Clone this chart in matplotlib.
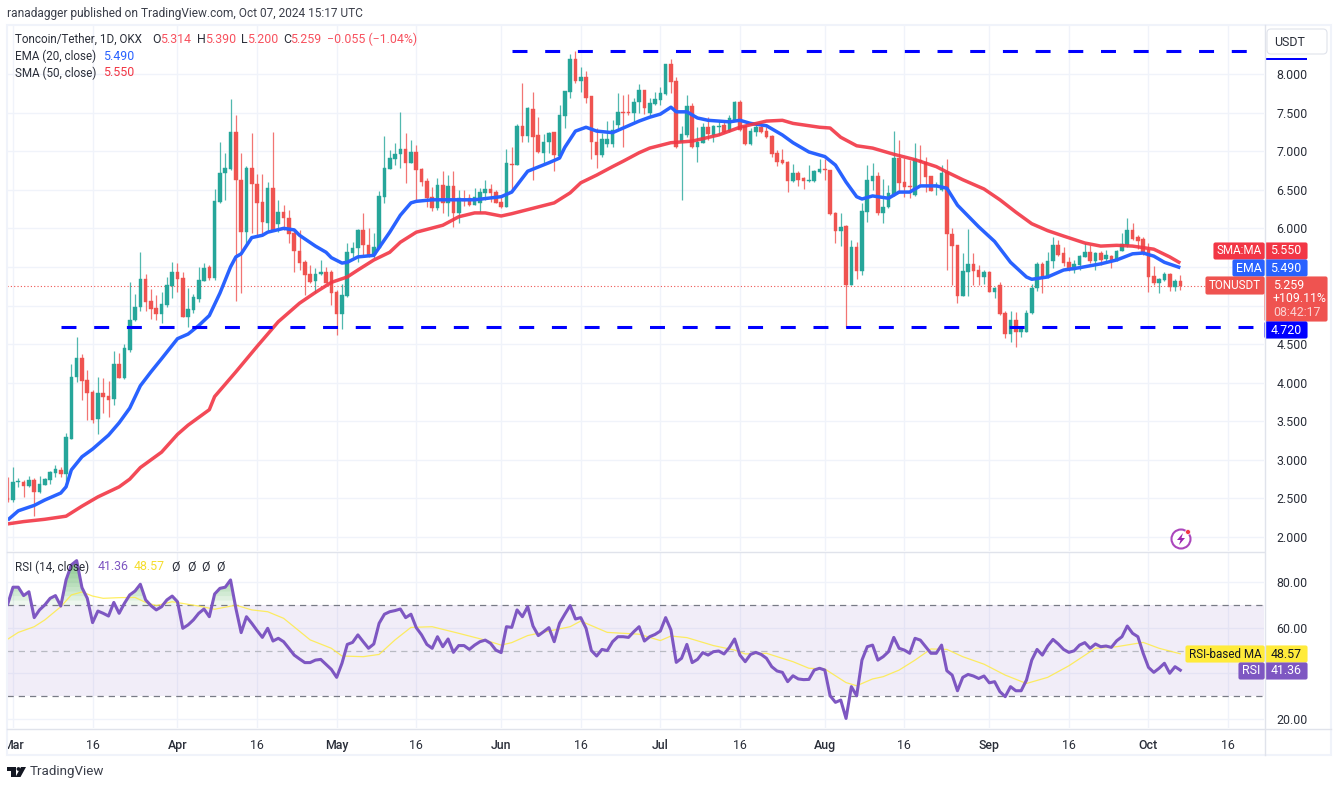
import numpy as np
import matplotlib
matplotlib.use("Agg")
import matplotlib.pyplot as plt
from matplotlib.patches import Rectangle, FancyBboxPatch, Circle, Polygon
from matplotlib.transforms import Bbox

plt.rcParams['font.family'] = ['Roboto', 'DejaVu Sans']

# === data. day 0 = Mar 1 2024 ===
days = np.arange(-1, 221)

opens = [
    2.51,2.48,2.71,2.71,2.66,2.74,2.58,2.67,2.74,2.83,
    2.87,2.82,3.27,4.07,4.32,4.03,3.88,3.53,3.87,3.83,
    3.79,4.24,4.06,4.42,4.81,4.98,5.34,5.06,4.97,4.89,
    5.01,5.25,5.43,5.36,4.85,4.94,5.08,5.32,5.50,5.36,
    6.34,6.72,6.77,7.25,6.63,5.95,6.78,6.57,6.34,6.07,
    6.52,6.06,6.21,6.13,5.94,5.71,5.56,5.41,5.32,5.41,
    5.44,5.44,5.17,4.89,5.12,5.68,5.75,5.98,5.78,5.65,
    5.75,6.41,6.77,6.90,6.96,7.03,6.85,6.99,6.77,6.61,
    6.40,6.26,6.56,6.33,6.55,6.20,6.38,6.39,6.30,6.33,
    6.46,6.51,6.47,6.34,6.28,6.84,6.82,7.33,7.20,7.55,
    7.21,6.98,7.12,7.25,6.94,7.46,7.77,8.20,7.91,7.96,
    7.71,7.12,6.95,7.09,7.09,7.34,7.51,7.51,7.50,7.64,
    7.79,7.49,7.61,7.66,7.74,8.13,7.91,7.12,7.21,7.59,
    7.05,7.11,7.31,7.21,7.31,7.34,7.26,7.40,7.64,7.33,
    7.09,7.25,7.31,7.26,7.20,6.98,6.89,6.86,6.61,6.72,
    6.65,6.61,6.61,6.73,6.77,6.76,6.20,5.97,6.03,5.27,
    5.76,5.45,6.21,6.61,6.68,6.20,6.28,6.43,6.91,6.60,
    6.55,6.43,6.89,6.86,6.68,6.54,6.50,6.73,5.93,5.78,
    5.12,5.43,5.54,5.46,5.37,5.43,5.18,5.27,4.90,4.63,
    4.81,4.66,4.66,4.90,5.23,5.54,5.37,5.58,5.78,5.68,
    5.56,5.46,5.52,5.63,5.69,5.58,5.68,5.60,5.64,5.60,
    5.71,5.78,5.98,5.89,5.86,5.72,5.38,5.29,5.33,5.41,
    5.24,5.314]
highs = [
    2.78,2.91,2.76,2.74,2.79,2.76,2.79,2.76,2.86,2.93,
    2.91,3.35,4.24,4.59,4.37,4.16,3.91,4.07,4.06,4.02,
    4.41,4.38,4.50,5.30,5.15,5.69,5.41,5.21,5.14,5.17,
    5.37,5.56,5.55,5.43,5.23,5.15,5.50,5.55,5.52,6.51,
    7.12,6.98,7.68,7.47,6.98,6.81,7.24,6.70,6.70,6.60,
    7.25,6.37,6.30,6.24,5.99,5.98,5.59,5.52,5.49,5.59,
    5.50,5.46,5.20,5.28,5.81,5.82,5.99,6.20,6.00,5.94,
    6.48,7.20,7.02,7.11,7.51,7.24,7.15,7.08,6.78,6.65,
    6.54,6.65,6.74,6.69,6.74,6.50,6.50,6.45,6.52,6.52,
    6.63,6.57,6.50,6.41,7.03,7.05,7.35,7.88,7.57,7.77,
    7.44,7.22,7.25,7.25,7.60,7.78,8.26,8.30,8.09,8.04,
    7.71,7.30,7.24,7.39,7.40,7.76,7.73,7.74,7.69,7.87,
    7.79,7.69,7.77,7.83,8.13,8.20,7.96,7.33,7.73,7.62,
    7.31,7.36,7.44,7.34,7.39,7.38,7.47,7.65,7.66,7.34,
    7.30,7.35,7.37,7.31,7.21,7.02,7.03,6.87,6.83,6.74,
    6.67,6.82,6.76,6.90,6.90,6.76,6.21,6.20,6.04,5.85,
    5.82,6.33,6.82,6.85,6.73,6.64,6.56,7.26,7.15,6.91,
    6.89,7.11,7.08,6.92,6.68,6.60,6.82,6.90,6.00,5.78,
    5.68,5.99,5.68,5.52,5.46,5.45,5.24,5.30,4.93,4.93,
    4.92,4.72,4.94,5.28,5.56,5.56,5.69,5.89,5.85,5.76,
    5.63,5.59,5.65,5.81,5.78,5.69,5.71,5.72,5.65,5.72,
    5.94,6.13,6.07,5.91,5.89,5.81,5.51,5.36,5.43,5.42,
    5.34,5.39]
lows = [
    2.45,2.45,2.65,2.52,2.65,2.27,2.57,2.67,2.69,2.78,
    2.78,2.73,3.27,4.01,3.78,3.52,3.48,3.33,3.61,3.56,
    3.71,4.06,4.05,4.40,4.80,4.93,4.93,4.83,4.81,4.77,
    4.98,5.10,5.17,4.85,4.72,4.90,5.05,5.32,5.33,5.33,
    6.33,6.37,6.76,5.06,5.16,5.78,5.94,5.91,5.91,5.95,
    5.98,5.95,5.98,5.81,5.43,5.46,5.14,5.29,5.16,5.40,
    5.29,5.01,4.62,4.70,5.11,5.63,5.56,5.65,5.63,5.62,
    5.75,6.33,6.77,6.82,6.78,6.59,6.85,6.34,6.55,6.28,
    6.23,6.24,6.20,6.16,6.02,6.07,6.29,6.29,6.30,6.21,
    6.37,6.34,6.33,6.26,6.28,6.50,6.82,7.12,7.12,6.63,
    6.98,6.85,6.98,6.74,6.92,7.30,7.69,7.88,7.77,7.62,
    6.90,6.78,6.92,7.05,7.05,7.27,7.05,7.47,7.38,7.49,
    7.48,7.44,7.60,7.60,7.73,7.75,7.04,6.37,7.18,7.04,
    6.86,7.11,7.15,7.12,7.21,7.24,7.25,7.39,7.26,7.08,
    7.08,7.20,7.24,7.17,6.92,6.81,6.83,6.47,6.60,6.55,
    6.51,6.60,6.60,6.72,6.63,6.17,5.81,5.77,4.72,5.27,
    5.34,5.40,6.08,6.50,6.17,6.07,6.26,6.42,6.46,6.41,
    6.39,6.42,6.57,6.47,6.48,6.43,6.48,5.46,5.27,5.03,
    5.12,5.12,5.27,5.27,5.28,5.17,5.10,4.88,4.58,4.53,
    4.46,4.59,4.66,4.89,5.19,5.16,5.36,5.49,5.64,5.51,
    5.45,5.42,5.46,5.63,5.55,5.46,5.52,5.56,5.49,5.58,
    5.71,5.76,5.85,5.73,5.65,5.17,5.27,5.16,5.32,5.19,
    5.19,5.20]
closes = [
    2.48,2.71,2.72,2.66,2.74,2.58,2.69,2.75,2.84,2.88,
    2.82,3.30,4.07,4.32,4.02,3.87,3.52,3.87,3.82,3.78,
    4.24,4.06,4.45,4.81,4.98,5.34,5.05,4.96,4.89,5.02,
    5.27,5.43,5.34,4.85,4.95,5.11,5.33,5.49,5.36,6.35,
    6.72,6.78,7.25,6.63,5.95,6.78,6.57,6.33,6.08,6.52,
    5.98,6.21,6.13,5.93,5.71,5.55,5.40,5.30,5.41,5.44,
    5.29,5.16,4.89,5.14,5.69,5.75,5.98,5.78,5.65,5.76,
    6.42,6.78,6.91,6.96,7.03,6.85,6.99,6.76,6.60,6.39,
    6.26,6.56,6.33,6.55,6.20,6.39,6.36,6.30,6.41,6.47,
    6.51,6.46,6.33,6.28,6.85,6.82,7.33,7.20,7.56,7.18,
    6.99,7.12,7.23,6.95,7.47,7.78,8.20,7.91,7.96,7.69,
    7.12,6.95,7.16,7.16,7.27,7.51,7.50,7.50,7.64,7.79,
    7.56,7.62,7.68,7.75,8.13,7.90,7.05,7.22,7.59,7.05,
    7.12,7.31,7.22,7.33,7.33,7.25,7.43,7.64,7.27,7.09,
    7.26,7.31,7.25,7.18,6.96,6.86,6.85,6.61,6.72,6.63,
    6.61,6.63,6.74,6.77,6.75,6.19,5.97,6.02,5.27,5.76,
    5.45,6.22,6.63,6.68,6.20,6.28,6.46,6.91,6.59,6.54,
    6.54,6.90,6.86,6.67,6.48,6.56,6.72,5.93,5.77,5.12,
    5.45,5.54,5.45,5.37,5.43,5.18,5.23,4.89,4.63,4.81,
    4.66,4.70,4.90,5.23,5.54,5.37,5.58,5.78,5.65,5.55,
    5.49,5.54,5.64,5.69,5.58,5.68,5.59,5.65,5.59,5.71,
    5.80,5.98,5.86,5.84,5.69,5.37,5.29,5.34,5.41,5.24,
    5.32,5.259]

ema_days = [-1,1,4,6,9,10,11,13,15,18,20,22,24,26,28,31,33,35,37,39,41,42,43,45,47,48,51,53,54,57,59,60,62,63,65,68,69,71,73,75,76,79,84,87,92,94,97,101,103,104,106,108,110,113,115,118,120,122,124,125,127,129,131,135,137,139,142,145,147,150,153,155,157,159,160,162,165,167,169,171,174,176,178,182,185,188,191,192,195,198,201,205,208,211,213,215,217,220]
ema_values = [2.22,2.34,2.41,2.48,2.57,2.65,2.87,3.04,3.14,3.32,3.48,3.67,3.96,4.14,4.31,4.57,4.63,4.74,4.87,5.16,5.50,5.63,5.67,5.88,5.91,5.95,6.00,5.98,5.91,5.77,5.69,5.62,5.55,5.56,5.63,5.65,5.75,5.95,6.17,6.33,6.35,6.37,6.37,6.37,6.41,6.47,6.74,6.85,6.91,7.05,7.26,7.31,7.26,7.24,7.30,7.39,7.44,7.48,7.57,7.51,7.51,7.43,7.40,7.38,7.40,7.36,7.33,7.21,7.11,6.99,6.93,6.82,6.60,6.41,6.38,6.42,6.39,6.47,6.47,6.55,6.55,6.52,6.30,6.02,5.83,5.56,5.37,5.34,5.37,5.46,5.49,5.54,5.59,5.67,5.68,5.64,5.56,5.49]
sma_days = [-1,2,6,10,13,16,20,22,24,28,31,33,37,38,42,46,50,54,57,60,63,65,68,71,73,76,81,84,87,89,92,94,98,102,105,107,110,113,115,118,120,124,128,133,137,142,145,147,152,154,156,159,162,166,170,174,176,179,183,186,189,192,195,198,202,205,208,211,215,218,220]
sma_values = [2.17,2.20,2.23,2.27,2.40,2.52,2.65,2.75,2.90,3.10,3.33,3.45,3.65,3.82,4.14,4.47,4.79,5.03,5.17,5.30,5.37,5.46,5.59,5.69,5.82,5.95,6.04,6.15,6.20,6.20,6.16,6.19,6.26,6.33,6.46,6.59,6.69,6.80,6.87,6.98,7.04,7.11,7.13,7.21,7.31,7.39,7.40,7.36,7.31,7.30,7.18,7.07,7.04,6.96,6.89,6.80,6.73,6.63,6.51,6.37,6.21,6.06,5.97,5.90,5.81,5.77,5.78,5.77,5.73,5.63,5.55]

rsi_values = [
    70.4,77.9,77.9,74.2,75.9,64.5,67.9,70.1,73.0,74.2,
    69.6,81.1,87.7,89.6,77.7,73.0,62.3,67.4,66.4,65.2,
    71.2,66.4,70.8,74.5,76.2,79.2,72.3,69.8,67.9,69.3,
    72.3,74.0,71.5,59.8,61.3,63.5,66.4,68.3,64.9,74.9,
    77.4,77.9,81.1,68.6,57.9,64.9,62.0,58.8,55.8,59.8,
    54.2,55.4,53.9,51.0,48.0,46.3,44.7,44.7,45.8,46.1,
    43.9,41.7,38.2,44.4,52.7,53.6,56.9,53.9,51.0,52.9,
    62.0,66.0,67.1,67.6,68.3,64.5,66.0,60.1,56.9,52.7,
    51.0,56.1,51.7,55.1,49.2,52.2,52.2,50.5,52.4,53.9,
    54.6,53.2,50.2,49.1,60.5,60.2,67.9,64.9,69.3,60.8,
    56.6,58.3,60.1,53.9,62.0,66.0,69.8,63.9,64.5,59.8,
    50.0,47.6,50.5,50.0,53.9,56.1,56.1,55.8,58.3,60.5,
    54.2,56.1,57.1,58.6,64.5,59.1,44.8,46.6,52.7,44.7,
    46.1,49.1,48.0,49.5,49.8,48.5,51.3,55.1,48.0,45.1,
    48.3,49.2,48.3,46.6,42.9,41.0,40.4,36.3,38.9,37.5,
    37.2,37.3,41.4,42.2,41.4,30.1,27.2,28.2,20.1,34.1,
    30.1,45.8,51.7,52.4,45.8,47.3,49.5,55.8,51.0,50.2,
    48.8,55.4,54.6,51.7,48.8,48.8,52.4,41.1,39.2,32.3,
    38.2,39.5,38.8,37.7,38.8,35.8,36.3,31.9,29.7,34.1,
    32.3,32.3,37.0,45.8,50.5,48.0,52.0,54.9,52.9,50.5,
    49.2,49.9,52.4,53.5,51.0,52.9,51.7,52.0,51.4,54.3,
    56.1,60.8,57.6,56.1,48.8,42.6,40.4,42.2,44.4,40.0,
    42.9,41.36]
rsi_ma_days = [-1,1,4,6,9,11,13,15,17,20,23,25,27,30,35,38,42,45,48,51,56,60,62,66,69,72,75,79,84,89,92,94,97,101,105,107,112,118,122,124,127,132,136,138,142,147,150,153,157,159,162,164,167,170,173,176,179,183,187,191,195,199,204,208,213,216,220]
rsi_ma_values = [55.0,58.0,60.5,63.5,69.3,74.5,75.8,74.0,73.0,73.3,73.4,71.2,69.8,71.5,69.6,68.2,70.0,67.9,67.1,64.2,54.7,51.0,47.6,47.3,48.3,54.7,60.2,60.5,57.6,54.6,52.4,53.5,56.6,58.6,60.5,63.0,58.0,57.2,54.4,56.4,55.7,52.2,50.2,48.5,48.8,45.1,42.2,41.9,35.9,34.5,37.5,38.5,41.4,45.8,50.7,50.5,47.3,44.0,39.2,35.5,38.2,43.3,51.0,51.7,53.6,51.0,48.57]

hline_levels = [8.30, 4.72]
hline_starts = [94, 9]
last_close = 5.259

tick_days = [0,15,31,46,61,76,92,107,122,137,153,168,184,199,214,229]
tick_labels = ["Mar","16","Apr","16","May","16","Jun","16","Jul","16","Aug","16","Sep","16","Oct","16"]
price_ticks = [8.0,7.5,7.0,6.5,6.0,5.5,5.0,4.5,4.0,3.5,3.0,2.5,2.0]
price_tick_labels = ["8.000","7.500","7.000","6.500","6.000","","","4.500","4.000","3.500","3.000","2.500","2.000"]
rsi_ticks = [80,60,40,20]
rsi_tick_labels = ["80.00","60.00","","20.00"]

GREEN, RED = "#26a69a", "#ef5350"
BLUE, SMA_RED = "#2962ff", "#f23645"
PURPLE, YELLOW = "#7e57c2", "#ffeb3b"
GRID, BORDER = "#f0f3fa", "#e0e3eb"
TXT = "#2a2e39"
W, H = 1337, 787
FS = 8.9
LEG = 8.4


def px_axes(x0, y0, x1, y1):
    return fig.add_axes([x0 / W, 1 - y1 / H, (x1 - x0) / W, (y1 - y0) / H])


fig = plt.figure(figsize=(W / 100, H / 100), dpi=100, facecolor="white")

# === price pane ===
ax = px_axes(7, 25, 1264, 551)
xlim = (-1.13, 235.77)
ax.set_xlim(xlim)
ax.set_ylim(1.819, 8.635)
ax.set_xticks(tick_days)
ax.set_yticks(price_ticks)
ax.set_yticklabels(price_tick_labels)
ax.yaxis.tick_right()
ax.tick_params(axis="y", length=0, labelsize=FS, labelcolor=TXT, pad=9)
ax.tick_params(axis="x", length=0, labelbottom=False)
ax.grid(True, color=GRID, lw=1)
ax.set_axisbelow(True)
for s in ax.spines.values():
    s.set_visible(False)

ax.axhline(last_close, color=RED, lw=0.8, ls=(0, (1, 2)), zorder=1)

o, h, l, c = map(np.array, (opens, highs, lows, closes))
colors = np.where(c >= o, GREEN, RED)
ax.vlines(days, l, h, colors=colors, lw=0.9, alpha=0.8, zorder=2)
ax.bar(days, np.abs(c - o), bottom=np.minimum(o, c), width=0.68, color=colors,
       edgecolor=colors, linewidth=0.3, zorder=3)

ax.plot(ema_days, ema_values, color=BLUE, lw=2.5, zorder=4, solid_capstyle="butt", solid_joinstyle="round")
ax.plot(sma_days, sma_values, color=SMA_RED, lw=2.5, alpha=0.9, zorder=4, solid_capstyle="butt", solid_joinstyle="round")

for level, start in zip(hline_levels, hline_starts):
    ax.plot([start, xlim[1]], [level, level], color="#0000ff", lw=2.2,
            dashes=(4.9, 5.8), dash_capstyle="butt", zorder=5)

# === RSI pane ===
rax = px_axes(7, 552, 1264, 728)
rax.set_xlim(xlim)
rax.set_ylim(15.9, 93.4)
rax.set_yticks(rsi_ticks)
rax.set_yticklabels(rsi_tick_labels)
rax.yaxis.tick_right()
rax.tick_params(axis="y", length=0, labelsize=FS, labelcolor=TXT, pad=9)
rax.set_xticks(tick_days)
rax.set_xticklabels(tick_labels)
rax.tick_params(axis="x", length=0, labelsize=FS, labelcolor=TXT, pad=8)
rax.grid(True, color=GRID, lw=1)
rax.set_axisbelow(True)
for s in rax.spines.values():
    s.set_visible(False)
for lab, txt in zip(rax.get_xticklabels(), tick_labels):
    if txt != "16":
        lab.set_fontweight("medium")
# "Mar" is cut by the left edge
first = rax.get_xticklabels()[0]
first.set_clip_on(True)
first.set_clip_box(Bbox.from_extents(7, 0, W, H))

rax.axhspan(30, 70, color=PURPLE, alpha=0.1, lw=0, zorder=1)
for level, col in [(70, "#787b86"), (50, "#b8bac2"), (30, "#787b86")]:
    rax.axhline(level, color=col, lw=0.9, dashes=(5, 4), zorder=2)

rsi = np.array(rsi_values)
for lev in np.arange(70, 90, 2):
    rax.fill_between(days, lev, rsi, where=rsi > lev, interpolate=True,
                     color="#4caf50", alpha=0.09, lw=0, zorder=2)
rax.plot(rsi_ma_days, rsi_ma_values, color=YELLOW, lw=0.9, alpha=0.8, zorder=3)
rax.plot(days, rsi, color=PURPLE, lw=2.2, zorder=4)

# === overlay in screen pixels: frame, labels, legend text ===
ov = fig.add_axes([0, 0, 1, 1], zorder=20)
ov.set_xlim(0, W)
ov.set_ylim(H, 0)
ov.axis("off")
ov.patch.set_alpha(0)


def text(x, y, s, color=TXT, ha="left", size=FS, **kw):
    return ov.text(x, y, s, color=color, ha=ha, va="center", fontsize=size, **kw)


def box(x0, y0, x1, y1, color, ec=None, r=1.5):
    ov.add_patch(FancyBboxPatch((x0 + r, y0 + r), x1 - x0 - 2 * r, y1 - y0 - 2 * r,
                                boxstyle=f"round,pad={r},rounding_size={r}",
                                fc=color, ec=ec or color, lw=0.8))


# frame
ov.add_patch(Rectangle((6.5, 24.5), 1324, 730.5, fc="none", ec=GRID, lw=1.5))
ov.plot([7, 1264], [551.5, 551.5], color=BORDER, lw=1)
ov.plot([7, 1331], [728.5, 728.5], color=BORDER, lw=1)
ov.plot([1264.5, 1264.5], [25, 755], color=BORDER, lw=1)

text(7, 13, "ranadagger published on TradingView.com, Oct 07, 2024 15:17 UTC", color="#3b3f4a", size=8.55)

# legend rows
VAL = "#f7525f"
text(15, 39.5, "Toncoin/Tether, 1D, OKX", size=LEG)
for x, s in [(152, "O"), (197, "H"), (241, "L"), (283, "C")]:
    text(x, 39.5, s)
for x, s in [(160, "5.314"), (205, "5.390"), (247, "5.200"), (290, "5.259"), (327, "\u22120.055 (\u22121.04%)")]:
    text(x, 39.5, s, color=VAL)
text(15, 56, "EMA (20, close)", size=LEG)
text(103, 56, "5.490", color=BLUE)
text(15, 73, "SMA (50, close)", size=LEG)
text(103, 73, "5.550", color=SMA_RED)
text(15, 567, "RSI (14, close)", size=LEG)
text(98, 567, "41.36", color=PURPLE)
text(134, 567, "48.57", color="#f5dd2e")
for x in [171, 187, 201, 216]:
    text(x, 567, "\u00d8")

# USDT button and the price label hidden behind it
ov.add_patch(Rectangle((1265, 58), 42, 2, fc="#0000ff", ec="none"))
box(1267, 29, 1327, 54, "white", ec=BORDER, r=4)
text(1290, 42, "USDT", ha="center")

# price scale labels
box(1214, 243, 1264, 259, SMA_RED)
box(1265, 243, 1307, 259, SMA_RED)
text(1239, 251, "SMA:MA", color="white", ha="center", size=LEG)
text(1286, 251, "5.550", color="white", ha="center")
box(1233, 260, 1264, 276, BLUE)
box(1265, 260, 1307, 276, BLUE)
text(1248.5, 268, "EMA", color="white", ha="center")
text(1286, 268, "5.490", color="white", ha="center")
box(1206, 277, 1264, 294, RED)
box(1265, 277, 1327, 321, RED)
text(1235, 285.5, "TONUSDT", color="white", ha="center", size=LEG)
text(1273, 285.5, "5.259", color="white")
text(1273, 299, "+109.11%", color="white")
text(1273, 313, "08:42:17", color="#fbd0d0")
box(1265, 322, 1307, 338, "#0000ff")
text(1286, 330, "4.720", color="white", ha="center")

# RSI scale labels
box(1186, 646, 1264, 662, YELLOW)
box(1265, 646, 1307, 662, YELLOW)
text(1225, 654, "RSI-based MA", color="#131722", ha="center", size=LEG)
text(1286, 654, "48.57", color="#131722", ha="center")
box(1239, 663, 1264, 679, PURPLE)
box(1265, 663, 1307, 679, PURPLE)
text(1251.5, 671, "RSI", color="white", ha="center")
text(1286, 671, "41.36", color="white", ha="center")

# bolt icon
ov.add_patch(Circle((1181, 539), 9.5, fc="white", ec="#ab47bc", lw=1.5))
ov.add_patch(Polygon([(1183, 533), (1177, 540), (1180.5, 540), (1179, 545), (1185, 538), (1181.5, 538)],
                     fc="#9c27b0", ec="none"))
ov.add_patch(Circle((1188, 532), 2.5, fc="#f23645", ec="white", lw=0.5))

# TradingView logo
ov.add_patch(Polygon([(7, 767), (16, 767), (16, 777), (11, 777), (11, 771), (7, 771)], fc="#131722", ec="none"))
ov.add_patch(Circle((18.5, 769), 1.9, fc="#131722", ec="none"))
ov.add_patch(Polygon([(21, 767), (26, 767), (20.5, 777), (15.5, 777)], fc="#131722", ec="none"))
text(30, 772, "TradingView", color="#3b3f4a", size=9.6)

fig.savefig("out.png", dpi=100, facecolor="white")
